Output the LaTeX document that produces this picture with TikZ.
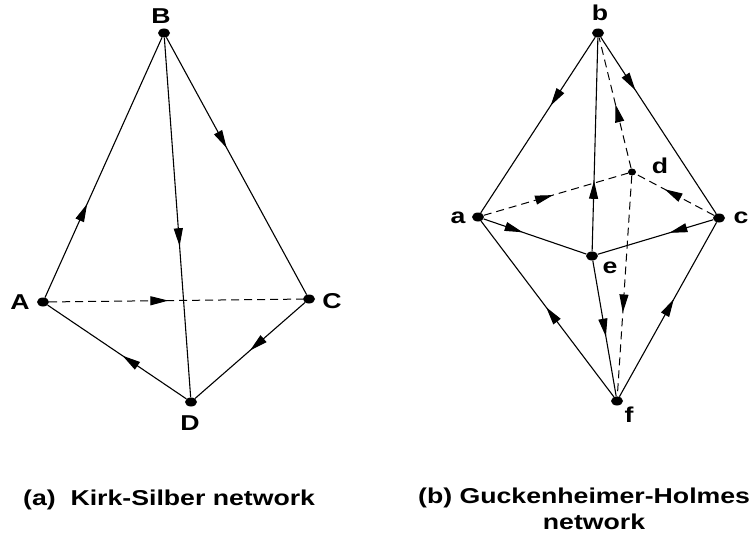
\documentclass[tikz,border=0pt]{standalone}
\usepackage{fontspec}
\setmainfont{Liberation Sans}[FakeStretch=1.24]
\usetikzlibrary{arrows.meta,decorations.markings,shapes.geometric}

\tikzset{
  vertex/.style={ellipse,fill=black,inner sep=0pt,minimum width=12pt,minimum height=9pt},
  smallvertex/.style={ellipse,fill=black,inner sep=0pt,minimum width=8pt,minimum height=7pt},
  vlabel/.style={inner sep=0pt,anchor=base,font=\fontsize{21.5}{25}\selectfont\bfseries},
  caption/.style={inner sep=0pt,font=\fontsize{21.5}{26}\selectfont\bfseries},
  edge/.style={line width=1.1pt},
  hidden/.style={line width=1pt,dash pattern=on 8pt off 5pt},
  flow/.style={postaction={decorate},decoration={markings,
      mark=at position #1 with {\arrow{Triangle[length=18pt,width=9pt]}}}}
}

\begin{document}
\begin{tikzpicture}[x=1pt,y=-1pt]
\useasboundingbox (0,0) rectangle (751,535);

% (a) Kirk-Silber network
\node[vertex] (B) at (164,33) {};
\node[vertex] (A) at (43,302) {};
\node[vertex] (C) at (309,299) {};
\node[vertex] (D) at (191,402) {};

\node[vlabel] (lB) at (161,24) {B};
\node[vlabel] (lA) at (20,309) {A};
\node[vlabel] (lC) at (332,308) {C};
\node[vlabel] (lD) at (190,430) {D};

\draw[edge,flow=0.36] (A) -- (B);
\draw[edge,flow=0.58] (B) -- (D);
\draw[edge,flow=0.43] (B) -- (C);
\draw[hidden,flow=0.47] (A) -- (C);
\draw[edge,flow=0.50] (C) -- (D);
\draw[edge,flow=0.46] (D) -- (A);

% (b) Guckenheimer-Holmes network
\node[vertex] (b) at (598,33) {};
\node[vertex] (a) at (478,217) {};
\node[vertex] (c) at (719,218) {};
\node[smallvertex] (d) at (632,172) {};
\node[vertex] (e) at (592,256) {};
\node[vertex] (f) at (617,401) {};

\node[vlabel] (lb) at (600,21) {b};
\node[vlabel] (la) at (458,223) {a};
\node[vlabel] (lc) at (741,223) {c};
\node[vlabel] (ld) at (660,173) {d};
\node[vlabel] (le) at (610,273) {e};
\node[vlabel] (lf) at (629,422) {f};

\draw[edge,flow=0.39] (b) -- (a);
\draw[edge,flow=0.30] (b) -- (c);
\draw[edge,flow=0.33] (e) -- (b);
\draw[hidden,flow=0.49] (d) -- (b);
\draw[hidden,flow=0.48] (a) -- (d);
\draw[hidden,flow=0.63] (c) -- (d);
\draw[edge,flow=0.38] (a) -- (e);
\draw[edge,flow=0.38] (c) -- (e);
\draw[edge,flow=0.56] (e) -- (f);
\draw[hidden,flow=0.62] (d) -- (f);
\draw[edge,flow=0.51] (f) -- (a);
\draw[edge,flow=0.56] (f) -- (c);

% captions
\node[caption,anchor=base west] (capa) at (23,505) {(a)\ \ Kirk-Silber network};
\node[caption,anchor=base west] (capb) at (418,503) {(b) Guckenheimer-Holmes};
\node[caption,anchor=base] (capb2) at (594,529) {network};
\end{tikzpicture}
\end{document}
